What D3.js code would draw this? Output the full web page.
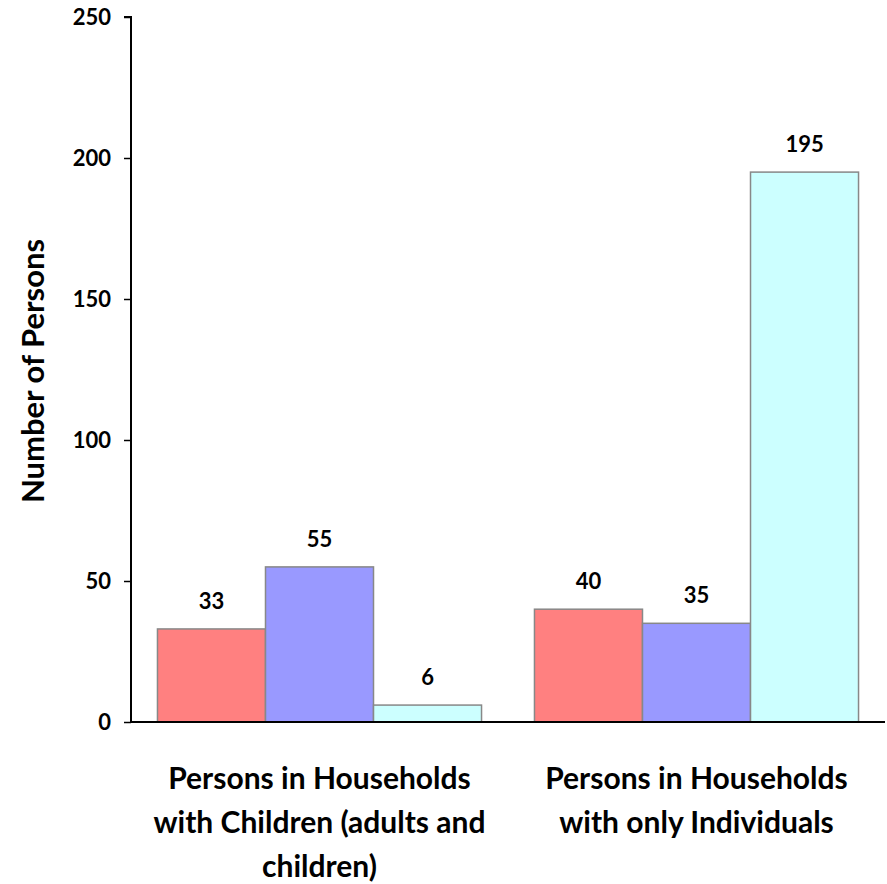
<!DOCTYPE html>
<html>
<head>
<meta charset="utf-8">
<script src="https://cdn.jsdelivr.net/npm/d3@7"></script>
<style>
  body { margin: 0; background: #fff; }
  text { font-family: Lato, "Open Sans", sans-serif; font-weight: bold; }
</style>
</head>
<body>
<div id="chart"></div>
<script>
const width = 887;
const height = 884;
const margin = { top: 17, right: 2, bottom: 162, left: 131 };

// chart data
const categories = [
  ["Persons in Households", "with Children (adults and", "children)"],
  ["Persons in Households", "with only Individuals"]
];
const seriesNames = ["s1", "s2", "s3"];
const values = [
  [33, 55, 6],
  [40, 35, 195]
];
const yTicks = [0, 50, 100, 150, 200, 250];
const colors = ["#FF8080", "#9999FF", "#CCFFFF"];

const svg = d3
  .select("#chart")
  .append("svg")
  .attr("width", width)
  .attr("height", height);

const x0 = d3
  .scaleBand()
  .domain(d3.range(categories.length))
  .range([margin.left, width - margin.right]);

const x1 = d3
  .scaleBand()
  .domain(seriesNames)
  .range([0, x0.bandwidth()])
  .paddingOuter(0.245)
  .paddingInner(0);

const yScale = d3
  .scaleLinear()
  .domain([0, 250])
  .range([height - margin.bottom, margin.top]);

const color = d3.scaleOrdinal().domain(seriesNames).range(colors);

// bars
const groups = svg
  .selectAll("g.group")
  .data(values)
  .enter()
  .append("g")
  .attr("class", "group")
  .attr("transform", (d, i) => `translate(${x0(i)},0)`);

groups
  .selectAll("rect")
  .data((d) => d.map((v, j) => ({ key: seriesNames[j], value: v })))
  .enter()
  .append("rect")
  .attr("x", (d) => x1(d.key))
  .attr("y", (d) => yScale(d.value))
  .attr("width", x1.bandwidth())
  .attr("height", (d) => yScale(0) - yScale(d.value))
  .attr("fill", (d) => color(d.key))
  .attr("stroke", "#888")
  .attr("stroke-width", 1.5);

// value labels
groups
  .selectAll("text.val")
  .data((d) => d.map((v, j) => ({ key: seriesNames[j], value: v })))
  .enter()
  .append("text")
  .attr("class", "val")
  .attr("x", (d) => x1(d.key) + x1.bandwidth() / 2)
  .attr("y", (d) => yScale(d.value) - 20)
  .attr("text-anchor", "middle")
  .attr("font-size", "22px")
  .text((d) => d.value);

// y axis
const yAxis = svg
  .append("g")
  .attr("transform", `translate(${margin.left},0)`)
  .call(d3.axisLeft(yScale).tickValues(yTicks).tickSize(7).tickPadding(13));
yAxis.select(".domain").attr("stroke", "#000").attr("stroke-width", 2).attr("d", `M-7,${yScale(250)}H0V${yScale(0)}`);
yAxis.selectAll(".tick line").attr("stroke", "#000").attr("stroke-width", 1.5);
yAxis.selectAll(".tick text").attr("font-size", "22px").attr("fill", "#000")
  .style("font-family", "Lato, 'Open Sans', sans-serif").style("font-weight", "bold");

// x axis line
svg
  .append("line")
  .attr("x1", margin.left)
  .attr("x2", width - margin.right)
  .attr("y1", yScale(0))
  .attr("y2", yScale(0))
  .attr("stroke", "#000")
  .attr("stroke-width", 2);

// category labels
categories.forEach((lines, i) => {
  const t = svg
    .append("text")
    .attr("x", x0(i) + x0.bandwidth() / 2)
    .attr("y", 789)
    .attr("text-anchor", "middle")
    .attr("font-size", "30px");
  lines.forEach((l, k) => {
    t.append("tspan")
      .attr("x", x0(i) + x0.bandwidth() / 2)
      .attr("dy", k === 0 ? 0 : 44)
      .text(l);
  });
});

// y axis title
svg
  .append("text")
  .attr("transform", "rotate(-90)")
  .attr("x", -371)
  .attr("y", 44)
  .attr("text-anchor", "middle")
  .attr("font-size", "31px")
  .text("Number of Persons");
</script>
</body>
</html>
